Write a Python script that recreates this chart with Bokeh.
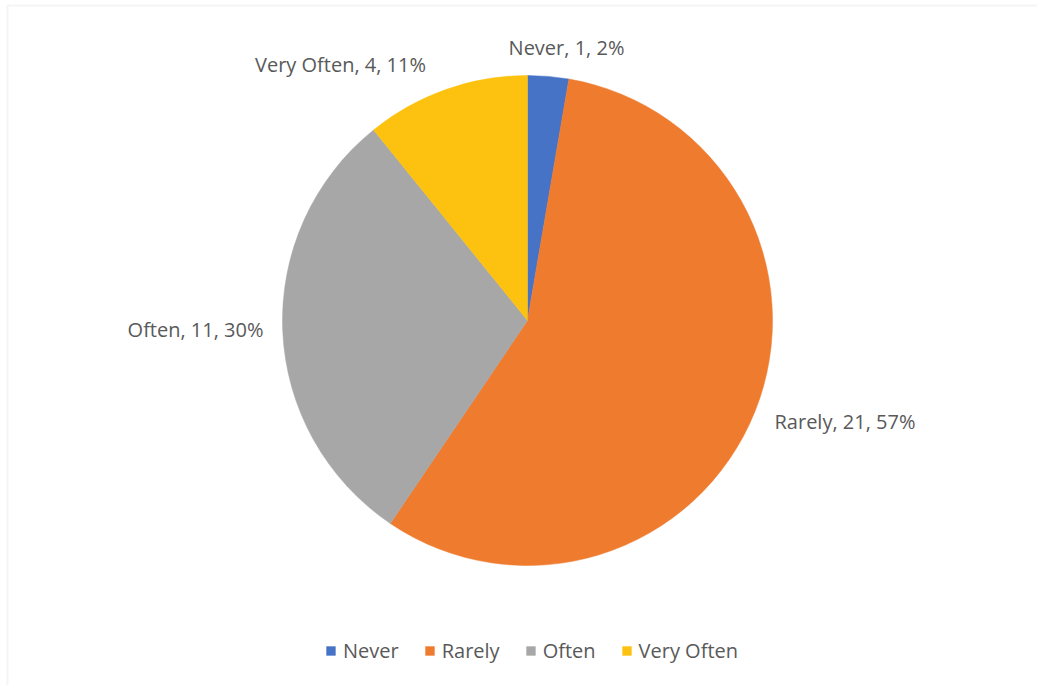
import numpy as np
from bokeh.plotting import figure
from bokeh.models import Range1d, Legend, LegendItem, BoxAnnotation, ColumnDataSource
from bokeh.core.properties import value
from bokeh.embed import file_html
from bokeh.resources import INLINE

# ---- data ----
categories = ["Never", "Rarely", "Often", "Very Often"]
counts = [1, 21, 11, 4]
pct_labels = ["2%", "57%", "30%", "11%"]
colors = ["#4673C6", "#EE7B2E", "#A7A7A7", "#FDC20F"]

# ---- layout / style constants (screen pixels, y measured from top) ----
W, H = 1037, 685
CX, CY, R = 527, 320, 245
label_pos = [(566, 47, "center"), (774, 421, "left"), (263, 329, "right"), (340, 64, "center")]
FONT = "Open Sans"
TXT = "#595959"

total = float(sum(counts))
frac = np.array(counts) / total
cum = np.concatenate([[0.0], np.cumsum(frac)])
# Excel: start at 12 o'clock, clockwise
start = np.pi / 2 - 2 * np.pi * cum[:-1]
end = np.pi / 2 - 2 * np.pi * cum[1:]

p = figure(width=W, height=H, output_backend="svg", toolbar_location=None,
           x_range=Range1d(0, W), y_range=Range1d(0, H),
           x_axis_location=None, y_axis_location=None, min_border=0)
p.grid.visible = False
p.outline_line_color = None
p.background_fill_color = "white"
p.border_fill_color = "white"

# chart area border
p.add_layout(BoxAnnotation(left=7, right=W + 10, bottom=-10, top=H - 5,
                           fill_color=None, line_color="#D9D9D9", line_width=2))

renderers = []
for i, cat in enumerate(categories):
    src = ColumnDataSource(dict(x=[CX], y=[H - CY], s=[start[i]], e=[end[i]]))
    r = p.wedge(x="x", y="y", radius=R, start_angle="s", end_angle="e", direction="clock",
                fill_color=colors[i], line_color=colors[i], line_width=0.5, source=src)
    renderers.append(r)

lab_text = [f"{c}, {n}, {pc}" for c, n, pc in zip(categories, counts, pct_labels)]
for i, (lx, ly, al) in enumerate(label_pos):
    p.text(x=[lx], y=[H - ly], text=[lab_text[i]], text_font=value(FONT),
           text_font_size="20px", text_color=TXT, text_align=al, text_baseline="middle")

legend = Legend(items=[LegendItem(label=c, renderers=[r]) for c, r in zip(categories, renderers)],
                orientation="horizontal", location=(325, 21),
                glyph_width=11, glyph_height=11, label_standoff=7, spacing=25,
                padding=0, margin=0, border_line_color=None, background_fill_alpha=0,
                label_text_font=FONT, label_text_font_size="20px", label_text_color=TXT)
p.add_layout(legend, "center")

open("out.html", "w").write(file_html(p, INLINE))
